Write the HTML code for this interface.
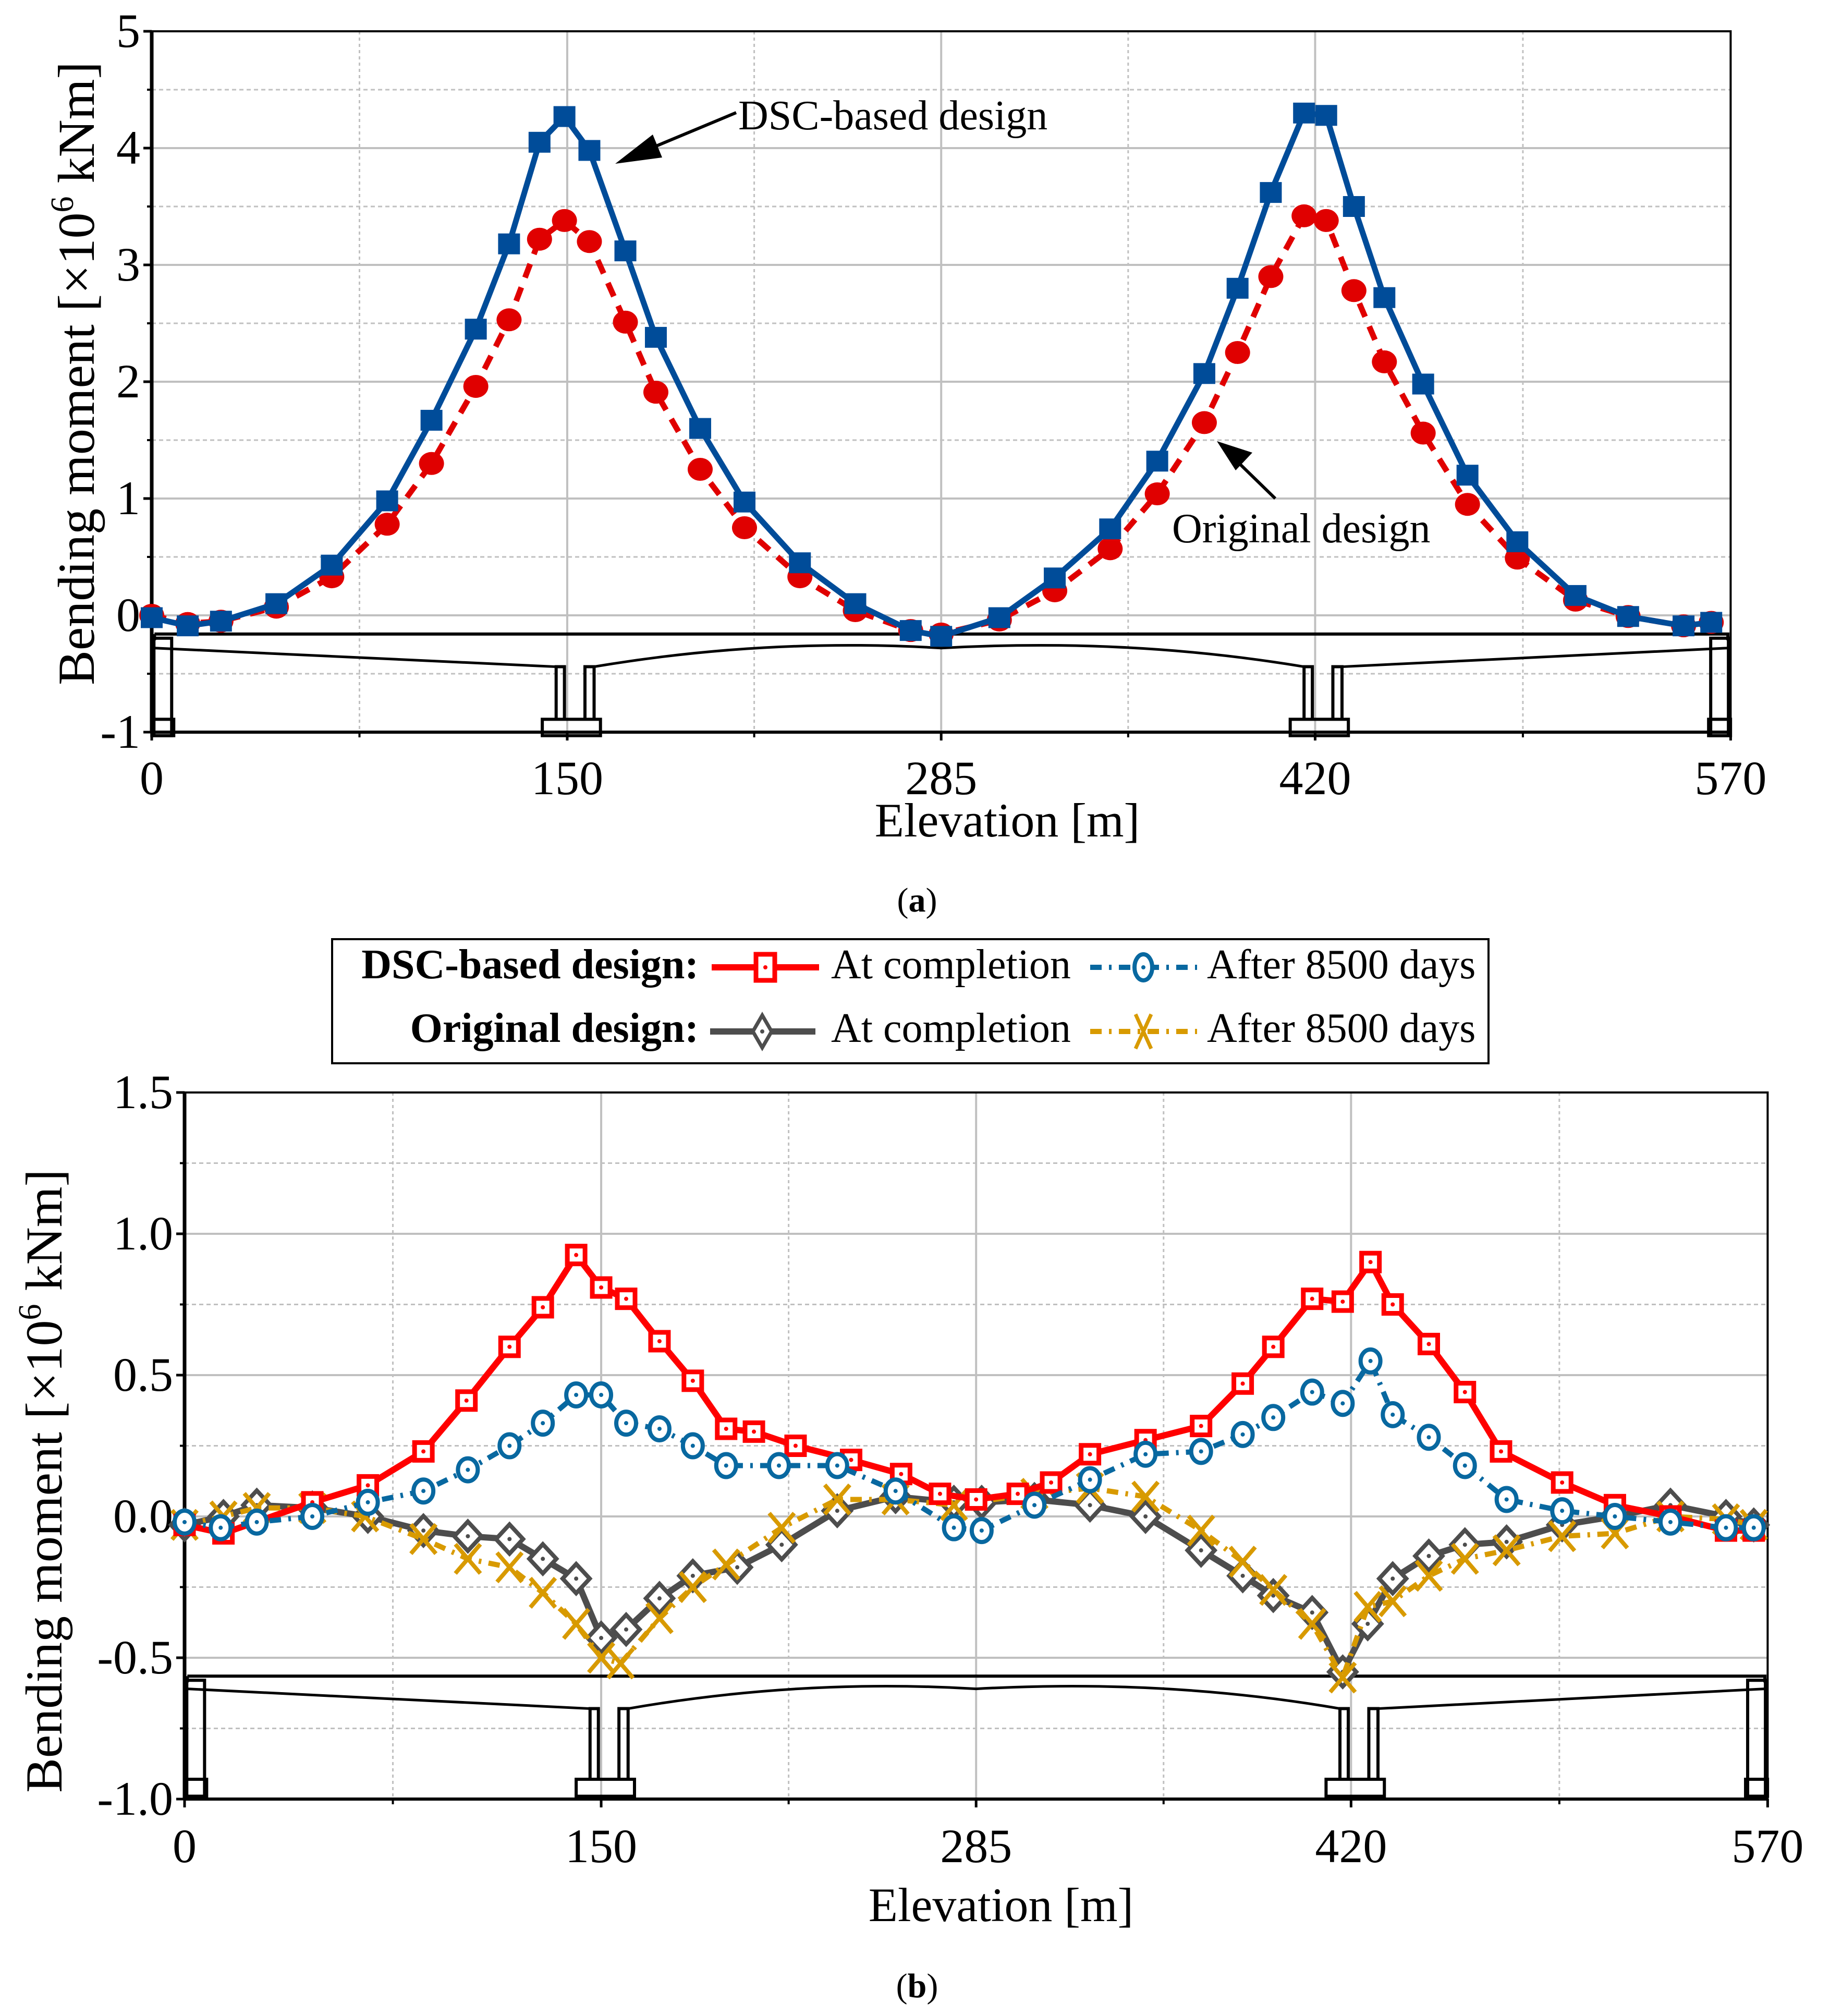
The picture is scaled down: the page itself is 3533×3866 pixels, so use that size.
<!DOCTYPE html>
<html><head><meta charset="utf-8"><style>
html,body{margin:0;padding:0;background:#fff}
svg{display:block}
text{font-family:"Liberation Serif",serif;fill:#000}
</style></head><body>
<svg id="fig" xmlns="http://www.w3.org/2000/svg" width="3533" height="3866" viewBox="0 0 3533 3866">
<rect width="3533" height="3866" fill="#fff"/>
<g id="ga"></g>
<g id="gb"></g>
<g>
 <rect x="637" y="1801" width="2218" height="238" fill="#fff" stroke="#000" stroke-width="4"/>
 <text x="1340" y="1876" font-size="80" font-weight="bold" text-anchor="end">DSC-based design:</text>
 <text x="1340" y="1998" font-size="80" font-weight="bold" text-anchor="end">Original design:</text>
 <g>
  <line x1="1365" y1="1855" x2="1571" y2="1855" stroke="#ff0000" stroke-width="12"/>
  <rect x="1450" y="1830" width="36" height="50" fill="#fff" stroke="#ff0000" stroke-width="9"/><circle cx="1468" cy="1855" r="4" fill="#ff0000"/>
  <text x="1594" y="1876" font-size="80">At completion</text></g>
 <g>
  <line x1="2091" y1="1855" x2="2296" y2="1855" stroke="#0868a0" stroke-width="10" stroke-dasharray="22,14,5,14"/>
  <ellipse cx="2193" cy="1855" rx="17" ry="25" fill="#fff" stroke="#0868a0" stroke-width="8"/><circle cx="2193" cy="1855" r="4" fill="#0868a0"/>
  <text x="2315" y="1876" font-size="80">After 8500 days</text></g>
 <g>
  <line x1="1362" y1="1978" x2="1564" y2="1978" stroke="#4d4d4d" stroke-width="12"/>
  <path d="M1462 1947 L1480 1978 L1462 2009 L1444 1978 Z" fill="#fff" stroke="#4d4d4d" stroke-width="7"/><circle cx="1462" cy="1978" r="4" fill="#4d4d4d"/>
  <text x="1594" y="1998" font-size="80">At completion</text></g>
 <g>
  <line x1="2091" y1="1978" x2="2296" y2="1978" stroke="#d89a00" stroke-width="10" stroke-dasharray="22,14,5,14"/>
  <path d="M2178 1945 L2208 2011 M2208 1945 L2178 2011" stroke="#d89a00" stroke-width="7"/>
  <text x="2315" y="1998" font-size="80">After 8500 days</text></g>
</g>
<text x="1759" y="1748" font-size="66" text-anchor="middle">(<tspan font-weight="bold">a</tspan>)</text>
<text x="1759" y="3830" font-size="66" text-anchor="middle">(<tspan font-weight="bold">b</tspan>)</text>
</svg>
<script>
// ---------- chart (a) data ----------
const aDscX = [0,13,25,45,65,85,101,117,129,140,149,158,171,182,198,214,234,254,274,285,306,326,346,363,380,392,404,416,424,434,445,459,475,493,514,533,553,563];
const aDscY = [-0.02,-0.09,-0.05,0.1,0.43,0.98,1.67,2.45,3.18,4.05,4.27,3.98,3.12,2.38,1.6,0.97,0.45,0.1,-0.13,-0.18,-0.02,0.32,0.74,1.32,2.07,2.8,3.62,4.3,4.28,3.5,2.72,1.98,1.2,0.63,0.17,-0.01,-0.09,-0.06];
const aOrigX = [0,13,25,45,65,85,101,117,129,140,149,158,171,182,198,214,234,254,274,285,306,326,346,363,380,392,404,416,424,434,445,459,475,493,514,533,553,563];
const aOrigY = [0,-0.07,-0.05,0.07,0.33,0.78,1.3,1.96,2.53,3.22,3.38,3.2,2.51,1.91,1.25,0.75,0.33,0.04,-0.13,-0.16,-0.04,0.21,0.57,1.04,1.65,2.25,2.9,3.42,3.38,2.78,2.17,1.56,0.95,0.49,0.13,-0.01,-0.09,-0.06];
const aYTicks = [5,4,3,2,1,0,-1];
const aXTicks = [0,150,285,420,570];
// ---------- chart (b) data ----------
const bDscCompX = [0,14,46,66,86,101.5,117,129,141,150,159,171,183,195,205,220,240,258,272,285,300,312,326,346,366,381,392,406,417,427,435,448,461,474,496,515,535,555,565];
const bDscCompY = [-0.03,-0.06,0.05,0.11,0.23,0.41,0.6,0.74,0.925,0.81,0.77,0.62,0.48,0.31,0.3,0.25,0.2,0.15,0.08,0.06,0.08,0.12,0.22,0.27,0.32,0.47,0.6,0.77,0.76,0.9,0.75,0.61,0.44,0.23,0.12,0.04,0,-0.05,-0.05];
const bDscAftX = [0,13,26,46,66,86,102,117,129,141,150,159,171,183,195,214,235,256,277,287,306,326,346,366,381,392,406,417,427,435,448,461,476,496,515,535,555,565];
const bDscAftY = [-0.02,-0.04,-0.02,0,0.05,0.09,0.165,0.25,0.33,0.43,0.43,0.33,0.31,0.25,0.18,0.18,0.18,0.09,-0.04,-0.05,0.04,0.13,0.22,0.23,0.29,0.35,0.44,0.4,0.55,0.36,0.28,0.18,0.06,0.02,0,-0.02,-0.04,-0.04];
const bOrigCompX = [0,14,26,46,66,86,102,117,129,141,150,159,171,183,199,215,235,256,277,287,306,326,346,366,381,392,406,417,426,435,448,461,476,496,515,535,555,565];
const bOrigCompY = [-0.03,0,0.04,0.03,0,-0.05,-0.07,-0.08,-0.15,-0.22,-0.43,-0.4,-0.29,-0.21,-0.18,-0.1,0.02,0.07,0.05,0.05,0.06,0.04,0,-0.12,-0.21,-0.28,-0.34,-0.55,-0.38,-0.22,-0.14,-0.1,-0.09,-0.03,0,0.04,0,-0.03];
const bOrigAftX = [0,14,26,46,65,86,102,117,129,141,150,157,171,183,195,215,235,256,277,306,326,346,366,381,392,406,417,426,435,448,461,476,496,515,535,555,565];
const bOrigAftY = [-0.03,0,0.03,0.03,0,-0.08,-0.15,-0.18,-0.27,-0.38,-0.5,-0.52,-0.36,-0.25,-0.17,-0.04,0.06,0.06,0.04,0.08,0.1,0.07,-0.05,-0.16,-0.26,-0.38,-0.57,-0.32,-0.3,-0.21,-0.15,-0.12,-0.07,-0.06,0,-0.01,-0.03];
const bYTicks = [1.5,1.0,0.5,0.0,-0.5,-1.0];
const bXTicks = [0,150,285,420,570];

const NS = "http://www.w3.org/2000/svg";
function mk(parent, tag, attrs){const e=document.createElementNS(NS,tag);for(const k in attrs)e.setAttribute(k,attrs[k]);parent.appendChild(e);return e;}

function buildChart(g, cfg){
  const sx = m => cfg.x0 + m*cfg.pxm;
  const sy = v => cfg.yZero - v*cfg.pxu;
  const xr = sx(570);
  for(let v=cfg.yMin; v<=cfg.yMax+1e-9; v+=cfg.minorStep){
    const ln = mk(g,'line',{x1:cfg.x0,x2:xr,y1:sy(v),y2:sy(v),stroke:'#c0c0c0','stroke-width':3,'stroke-dasharray':'8,6'});
    
    
  }
  [75,217.5,352.5,495].forEach(m=>{
    const ln=mk(g,'line',{x1:sx(m),x2:sx(m),y1:sy(cfg.yMax),y2:sy(cfg.yMin),stroke:'#c0c0c0','stroke-width':3,'stroke-dasharray':'6,6'});
    
    
  });
  cfg.yTicks.forEach(v=>{
    const ln=mk(g,'line',{x1:cfg.x0,x2:xr,y1:sy(v),y2:sy(v),stroke:'#c0c0c0','stroke-width':4});
    
    
    const t=mk(g,'text',{x:cfg.x0-22,y:sy(v)+30,'font-size':cfg.fs,'text-anchor':'end'});
    t.textContent = cfg.fmt(v);
    
    
    mk(g,'line',{x1:cfg.x0-16,x2:cfg.x0,y1:sy(v),y2:sy(v),stroke:'#000','stroke-width':5});
  });
  for(let v=cfg.yMin; v<=cfg.yMax; v+=cfg.minorStep) mk(g,'line',{x1:cfg.x0-9,x2:cfg.x0,y1:sy(v),y2:sy(v),stroke:'#000','stroke-width':4});
  cfg.xTicks.forEach(m=>{
    if(m>0&&m<570){const ln=mk(g,'line',{x1:sx(m),x2:sx(m),y1:sy(cfg.yMax),y2:sy(cfg.yMin),stroke:'#c0c0c0','stroke-width':4});
      
      }
    const t=mk(g,'text',{x:sx(m),y:cfg.xLabY,'font-size':cfg.fs,'text-anchor':'middle'});
    t.textContent=String(m);
    
    
    mk(g,'line',{x1:sx(m),x2:sx(m),y1:sy(cfg.yMin),y2:sy(cfg.yMin)+16,stroke:'#000','stroke-width':5});
  });
  [75,217.5,352.5,495].forEach(m=>mk(g,'line',{x1:sx(m),x2:sx(m),y1:sy(cfg.yMin),y2:sy(cfg.yMin)+10,stroke:'#000','stroke-width':4}));
  const fr=mk(g,'rect',{x:cfg.x0,y:sy(cfg.yMax),width:xr-cfg.x0,height:sy(cfg.yMin)-sy(cfg.yMax),fill:'none',stroke:'#000','stroke-width':4});
  
  
  mk(g,'line',{x1:cfg.x0,x2:cfg.x0,y1:sy(cfg.yMax),y2:sy(cfg.yMin),stroke:'#000','stroke-width':7});
  mk(g,'line',{x1:cfg.x0,x2:xr,y1:sy(cfg.yMin),y2:sy(cfg.yMin),stroke:'#000','stroke-width':6});
  const br=cfg.br;
  const bg=mk(g,'g',{fill:'none',stroke:'#000','stroke-width':6});
  
  
  mk(bg,'path',{d:`M${sx(1)} ${sy(br.top)} L${sx(569)} ${sy(br.top)} L${sx(569)} ${sy(br.top)+12} M${sx(1)} ${sy(br.top)} L${sx(1)} ${sy(br.top)+12}`});
  let d=`M${sx(1)} ${sy(br.soffEnd)} L${sx(146)} ${sy(br.soffPier)} M${sx(159.7)} ${sy(br.soffPier)} Q${sx(222)} ${sy(br.soffEnd)-20} ${sx(285)} ${sy(br.soffEnd)} Q${sx(353)} ${sy(br.soffEnd)-20} ${sx(416)} ${sy(br.soffPier)} M${sx(429.7)} ${sy(br.soffPier)} L${sx(569)} ${sy(br.soffEnd)}`;
  mk(bg,'path',{d:d,'stroke-width':5});
  [[0.8,7.2],[562.8,569.2]].forEach(a=>{
    mk(bg,'rect',{x:sx(a[0]),y:sy(br.top)+8,width:sx(a[1])-sx(a[0]),height:sy(br.foot)-sy(br.top)-8});
    mk(bg,'rect',{x:sx(a[0])-4,y:sy(br.pierBot),width:sx(a[1])-sx(a[0])+8,height:sy(br.foot)-sy(br.pierBot)});
  });
  [150,420].forEach(c=>{
    const p0=c-4,p1=c-1,p2=c+6.4,p3=c+9.7;
    mk(bg,'path',{d:`M${sx(p0)} ${sy(br.pierBot)} L${sx(p0)} ${sy(br.soffPier)} L${sx(p1)} ${sy(br.soffPier)} L${sx(p1)} ${sy(br.pierBot)} M${sx(p2)} ${sy(br.pierBot)} L${sx(p2)} ${sy(br.soffPier)} L${sx(p3)} ${sy(br.soffPier)} L${sx(p3)} ${sy(br.pierBot)}`});
    mk(bg,'rect',{x:sx(c-9),y:sy(br.pierBot),width:sx(c+12)-sx(c-9),height:sy(br.foot)-sy(br.pierBot)});
  });
  const xt=mk(g,'text',{x:cfg.xtX,y:cfg.xtY,'font-size':cfg.tfs,'text-anchor':'middle'});
  xt.textContent='Elevation  [m]';
  xt.setAttribute('xml:space','preserve');
  
  
  const yt=mk(g,'text',{x:0,y:0,'font-size':cfg.yfs,'text-anchor':'middle',transform:`translate(${cfg.ytX},${cfg.ytY}) rotate(-90)`});
  yt.innerHTML='Bending moment [×10<tspan dy="-40" font-size="62">6</tspan><tspan dy="40"> kNm]</tspan>';
  
  
  return {sx,sy};
}

function series(g, xs, ys, sx, sy, style, marker, name){
  const sg=mk(g,'g',{});
  
  
  const pts=xs.map((m,i)=>sx(m)+','+sy(ys[i])).join(' ');
  const pl=mk(sg,'polyline',Object.assign({points:pts,fill:'none','stroke-linejoin':'round'},style));
  
  
  xs.forEach((m,i)=>{const mkE=marker(sg,sx(m),sy(ys[i]));
    
    });
}

const ga=document.getElementById('ga');
const A=buildChart(ga,{x0:291,pxm:5.313,yZero:1180,pxu:224,yMin:-1,yMax:5,minorStep:0.5,yTicks:aYTicks,xTicks:aXTicks,fs:92,fmt:v=>String(v),xLabY:1523,
  br:{top:-0.16,soffEnd:-0.28,soffPier:-0.44,pierBot:-0.89,foot:-1.03},tfs:92,yfs:100,xtX:1932,xtY:1604,ytX:180,ytY:716});
series(ga,aOrigX,aOrigY,A.sx,A.sy,{stroke:'#e00000','stroke-width':11,'stroke-dasharray':'28,20'},(p,x,y)=>mk(p,'ellipse',{cx:x,cy:y,rx:24,ry:22,fill:'#e00000'}),'original-design-series');
series(ga,aDscX,aDscY,A.sx,A.sy,{stroke:'#004c99','stroke-width':11},(p,x,y)=>mk(p,'rect',{x:x-21,y:y-20,width:42,height:40,fill:'#004c99'}),'dsc-design-series');
(function(){
  const t1=mk(ga,'text',{x:1416,y:248,'font-size':80});t1.textContent='DSC-based design';
  
  
  mk(ga,'line',{x1:1412,y1:216,x2:1230,y2:292,stroke:'#000','stroke-width':6});
  mk(ga,'path',{d:'M1180 314 L1252 258 L1270 302 Z',fill:'#000'});
  const t2=mk(ga,'text',{x:2248,y:1040,'font-size':80});t2.textContent='Original design';
  
  
  mk(ga,'line',{x1:2446,y1:956,x2:2370,y2:882,stroke:'#000','stroke-width':6});
  mk(ga,'path',{d:'M2334 846 L2402 868 L2370 902 Z',fill:'#000'});
})();

const gb=document.getElementById('gb');
const B=buildChart(gb,{x0:354,pxm:5.327,yZero:2908,pxu:542,yMin:-1,yMax:1.5,minorStep:0.25,yTicks:bYTicks,xTicks:bXTicks,fs:92,fmt:v=>v.toFixed(1),xLabY:3571,
  br:{top:-0.565,soffEnd:-0.61,soffPier:-0.68,pierBot:-0.93,foot:-0.99},tfs:92,yfs:100,xtX:1920,xtY:3684,ytX:118,ytY:2840});
const sq=c=>(p,x,y)=>{const g=mk(p,'g',{});mk(g,'rect',{x:x-17,y:y-17,width:34,height:34,fill:'#fff',stroke:c,'stroke-width':9});mk(g,'circle',{cx:x,cy:y,r:4,fill:c});return g;};
const ci=c=>(p,x,y)=>{const g=mk(p,'g',{});mk(g,'ellipse',{cx:x,cy:y,rx:19,ry:22,fill:'#fff',stroke:c,'stroke-width':8});mk(g,'circle',{cx:x,cy:y,r:4,fill:c});return g;};
const di=c=>(p,x,y)=>{const g=mk(p,'g',{});mk(g,'path',{d:`M${x} ${y-28} L${x+26} ${y} L${x} ${y+28} L${x-26} ${y} Z`,fill:'#fff',stroke:c,'stroke-width':8});mk(g,'circle',{cx:x,cy:y,r:4,fill:c});return g;};
const xx=c=>(p,x,y)=>mk(p,'path',{d:`M${x-24} ${y-28} L${x+24} ${y+28} M${x+24} ${y-28} L${x-24} ${y+28}`,stroke:c,'stroke-width':8});
series(gb,bOrigCompX,bOrigCompY,B.sx,B.sy,{stroke:'#4d4d4d','stroke-width':12},di('#4d4d4d'),'original-completion-series');
series(gb,bOrigAftX,bOrigAftY,B.sx,B.sy,{stroke:'#d89a00','stroke-width':10,'stroke-dasharray':'22,14,5,14'},xx('#d89a00'),'original-8500-series');
series(gb,bDscCompX,bDscCompY,B.sx,B.sy,{stroke:'#ff0000','stroke-width':12},sq('#ff0000'),'dsc-completion-series');
series(gb,bDscAftX,bDscAftY,B.sx,B.sy,{stroke:'#0868a0','stroke-width':10,'stroke-dasharray':'22,14,5,14'},ci('#0868a0'),'dsc-8500-series');
</script>
</body></html>
